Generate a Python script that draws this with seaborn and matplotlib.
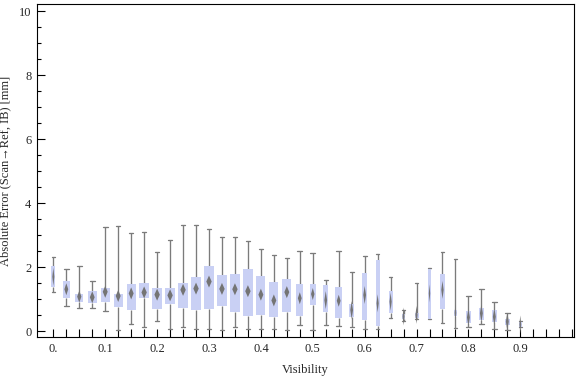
import numpy as np
import pandas as pd
import matplotlib
matplotlib.use("Agg")
import matplotlib.pyplot as plt
import seaborn as sns

# ---- data ----
visibility = [0.0, 0.025, 0.05, 0.075, 0.1, 0.125, 0.15, 0.175, 0.2, 0.225,
              0.25, 0.275, 0.3, 0.325, 0.35, 0.375, 0.4, 0.425, 0.45, 0.475,
              0.5, 0.525, 0.55, 0.575, 0.6, 0.625, 0.65, 0.675, 0.7, 0.725,
              0.75, 0.775, 0.8, 0.825, 0.85, 0.875, 0.9]
whisker_low = [1.22, 0.79, 0.72, 0.72, 0.63, 0.04, 0.22, 0.14, 0.32, 0.08,
               0.14, 0.08, 0.08, 0.04, 0.14, 0.08, 0.08, 0.08, 0.04, 0.19,
               0.04, 0.19, 0.16, 0.13, 0.09, 0.07, 0.41, 0.32, 0.38, 0.38,
               0.26, 0.11, 0.14, 0.22, 0.07, 0.04, 0.14]
quart_low = [1.38, 1.06, 0.93, 0.90, 0.93, 0.78, 0.68, 1.06, 0.71, 0.87,
             0.74, 0.68, 0.71, 0.81, 0.62, 0.49, 0.53, 0.46, 0.62, 0.49,
             0.84, 0.62, 0.43, 0.46, 0.36, 0.18, 0.59, 0.40, 0.42, 0.40,
             0.71, 0.49, 0.28, 0.36, 0.31, 0.21, 0.15]
median = [1.71, 1.32, 1.09, 1.07, 1.24, 1.11, 1.19, 1.22, 1.15, 1.13,
          1.30, 1.34, 1.56, 1.33, 1.32, 1.26, 1.15, 0.97, 1.23, 1.04,
          1.17, 0.98, 0.96, 0.67, 1.14, 0.88, 0.93, 0.47, 0.52, 1.19,
          1.30, 0.58, 0.44, 0.57, 0.46, 0.31, 0.22]
quart_high = [2.05, 1.58, 1.17, 1.27, 1.36, 1.17, 1.48, 1.51, 1.36, 1.36,
              1.51, 1.69, 2.05, 1.76, 1.79, 1.94, 1.72, 1.54, 1.63, 1.47,
              1.48, 1.44, 1.39, 0.85, 1.82, 2.23, 1.27, 0.55, 0.59, 1.95,
              1.79, 0.67, 0.64, 0.73, 0.66, 0.39, 0.29]
whisker_high = [2.32, 1.94, 2.04, 1.57, 3.26, 3.29, 3.07, 3.12, 2.47, 2.85,
                3.32, 3.32, 3.19, 2.96, 2.96, 2.84, 2.59, 2.40, 2.31, 2.53,
                2.44, 1.60, 2.53, 1.85, 2.35, 2.41, 1.69, 0.66, 1.51, 1.97,
                2.47, 2.26, 1.10, 1.33, 0.91, 0.57, 0.32]
x_tick_labels = ["0.", "0.1", "0.2", "0.3", "0.4", "0.5", "0.6", "0.7", "0.8", "0.9"]
y_tick_labels = ["0", "2", "4", "6", "8", "10"]

# ---- styling (box widths in pixels as drawn in the reference) ----
box_px = [3.7, 7, 7.7, 8.7, 9, 9, 9, 9.7, 10, 10, 10, 10, 10.7, 10, 10, 10,
          9, 9, 9, 7, 6.3, 5, 7, 5, 5, 4, 4, 3.7, 4, 2.5, 4.3, 3, 5.3, 5.3,
          5.3, 5.3, 3.3]
PX_PER_STEP = 12.97      # pixels between neighbouring boxes
STEP = 0.025
BOX_COLOR = "#c9d0f4"
LINE_COLOR = "#7b7b7b"
MED_COLOR = "#747474"

sns.set_theme(style="white")
plt.rcParams["font.family"] = ["Liberation Serif", "DejaVu Serif"]

fig = plt.figure(figsize=(5.76, 3.77), dpi=100)
ax = fig.add_axes([37 / 576, 40 / 377, 537 / 576, 333 / 377])

for i, xv in enumerate(visibility):
    vals = [whisker_low[i], quart_low[i], median[i], quart_high[i], whisker_high[i]]
    df = pd.DataFrame({"Visibility": [xv] * 5, "err": vals})
    w = box_px[i] * STEP / PX_PER_STEP
    cap = min(4.6, 0.85 * box_px[i]) * STEP / PX_PER_STEP
    sns.boxplot(data=df, x="Visibility", y="err", native_scale=True,
                width=w, whis=np.inf, color=BOX_COLOR, saturation=1,
                linecolor=LINE_COLOR, linewidth=0.95,
                boxprops=dict(edgecolor="none", linewidth=0, zorder=2),
                whiskerprops=dict(zorder=1),
                capprops=dict(zorder=1),
                medianprops=dict(visible=False),
                capwidths=cap, ax=ax)
    # median marker: thin diamond
    mw = min(5.4, 0.55 * box_px[i])
    mh = 12.0 if box_px[i] >= 6 else 18.0
    a = mw / mh
    marker = [(0, 1), (a, 0), (0, -1), (-a, 0), (0, 1)]
    sns.scatterplot(x=[xv], y=[median[i]], marker=marker,
                    s=(mh * 0.72) ** 2, color=MED_COLOR, edgecolor="none",
                    linewidth=0, zorder=3, ax=ax, legend=False)

# ---- axes ----
ax.set_xlim(-0.0315, 1.0035)
ax.set_ylim(-0.172, 10.23)

ax.set_xticks([0.025 * k for k in range(41)], minor=True)
ax.set_xticks([0.0, 0.1, 0.2, 0.3, 0.4, 0.5, 0.6, 0.7, 0.8, 0.9])
ax.set_xticklabels(x_tick_labels)
ax.set_yticks([0, 2, 4, 6, 8, 10])
ax.set_yticklabels(y_tick_labels)
ax.set_yticks([0.5 * k for k in range(21)], minor=True)

ax.tick_params(axis="both", which="major", direction="in", length=5.5,
               width=0.8, color="black", labelsize=9, pad=4,
               bottom=True, left=True, top=False, right=False)
ax.tick_params(axis="x", which="minor", direction="in", length=5.5,
               width=0.8, color="black", bottom=True, top=False)
ax.tick_params(axis="y", which="minor", direction="in", length=3,
               width=0.8, color="black", left=True, right=False)

for sp in ax.spines.values():
    sp.set_visible(True)
    sp.set_color("black")
    sp.set_linewidth(0.8)

ax.set_xlabel("Visibility", fontsize=9, labelpad=7)
ax.set_ylabel("Absolute Error (Scan\u2192Ref, IB) [mm]", fontsize=9)
ax.yaxis.set_label_coords(-0.047, 0.5)
ax.grid(False)

fig.savefig("out.png", dpi=100)
